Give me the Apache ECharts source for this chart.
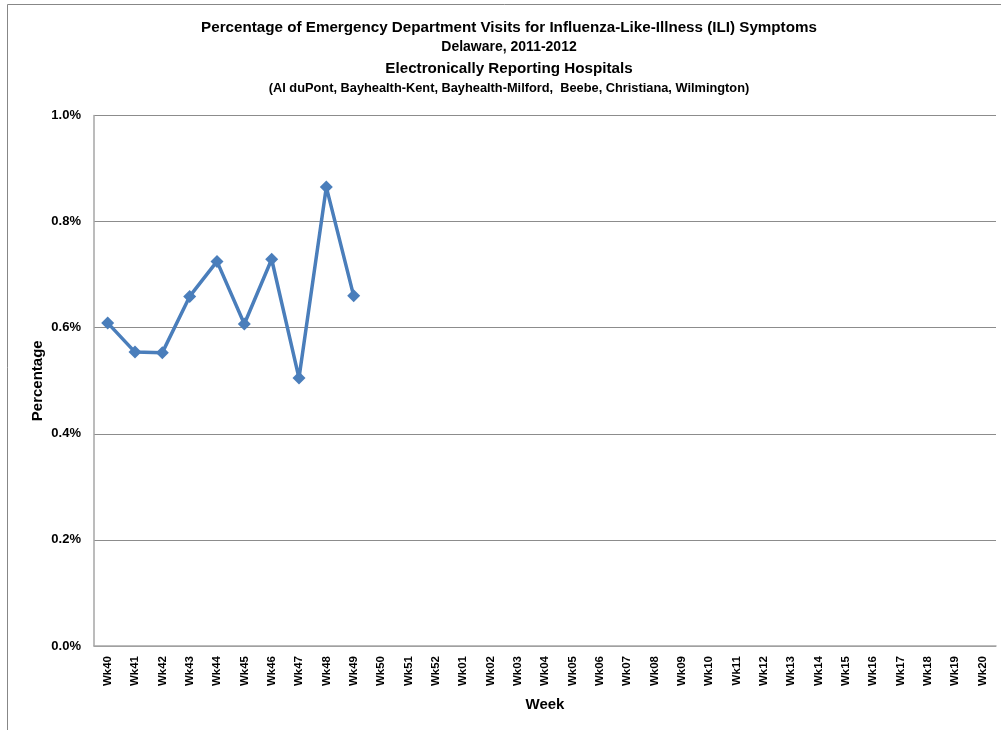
<!DOCTYPE html>
<html>
<head>
<meta charset="utf-8">
<script src="https://cdn.jsdelivr.net/npm/echarts@6/dist/echarts.min.js"></script>
<style>
html,body{margin:0;padding:0;background:#fff;}
#chart{width:1001px;height:730px;}
</style>
</head>
<body>
<div id="chart"></div>
<script>
const weeks = ['Wk40','Wk41','Wk42','Wk43','Wk44','Wk45','Wk46','Wk47','Wk48','Wk49','Wk50','Wk51','Wk52',
  'Wk01','Wk02','Wk03','Wk04','Wk05','Wk06','Wk07','Wk08','Wk09','Wk10','Wk11','Wk12','Wk13','Wk14','Wk15',
  'Wk16','Wk17','Wk18','Wk19','Wk20'];
const iliPercent = [0.609, 0.554, 0.553, 0.659, 0.725, 0.607, 0.729, 0.505, 0.865, 0.660];
const titleLines = [
  'Percentage of Emergency Department Visits for Influenza-Like-Illness (ILI) Symptoms',
  'Delaware, 2011-2012',
  'Electronically Reporting Hospitals',
  '(AI duPont, Bayhealth-Kent, Bayhealth-Milford,  Beebe, Christiana, Wilmington)'
];
const yAxisName = 'Percentage';
const xAxisName = 'Week';

const font = 'Liberation Sans, Arial, sans-serif';
const chart = echarts.init(document.getElementById('chart'));
const titleTops = [20, 40, 61, 82];
const titleSizes = [15.2, 14, 15.2, 12.8];
chart.setOption({
  animation: false,
  backgroundColor: '#fff',
  title: titleLines.map((t, i) => ({
    text: t,
    left: 509,
    textAlign: 'center',
    top: titleTops[i],
    padding: 0,
    textStyle: { fontFamily: font, fontWeight: 'bold', fontSize: titleSizes[i], color: '#000' }
  })),
  graphic: [{
    type: 'rect',
    shape: { x: 7.5, y: 4.5, width: 1100, height: 900 },
    style: { fill: 'none', stroke: '#878787', lineWidth: 1 },
    silent: true
  }],
  grid: { left: 94, right: 5, top: 115.5, bottom: 84 },
  xAxis: {
    type: 'category',
    data: weeks,
    boundaryGap: true,
    name: xAxisName,
    nameLocation: 'middle',
    nameGap: 51,
    nameTextStyle: { fontFamily: font, fontWeight: 'bold', fontSize: 15, color: '#000' },
    axisLine: { lineStyle: { color: '#a6a6a6', width: 1.5 } },
    axisTick: { show: false },
    axisLabel: { rotate: 90, margin: 10, fontFamily: font, fontWeight: 'bold', fontSize: 11.5, color: '#000', interval: 0 }
  },
  yAxis: {
    type: 'value',
    min: 0,
    max: 1.0,
    interval: 0.2,
    name: yAxisName,
    nameLocation: 'middle',
    nameGap: 49,
    nameRotate: 90,
    nameMoveOverlap: false,
    nameTextStyle: { fontFamily: font, fontWeight: 'bold', fontSize: 15, color: '#000' },
    axisLine: { show: true, lineStyle: { color: '#a6a6a6', width: 1.5 } },
    axisTick: { show: false },
    axisLabel: { margin: 13, fontFamily: font, fontWeight: 'bold', fontSize: 13, color: '#000',
      formatter: v => v.toFixed(1) + '%' },
    splitLine: { lineStyle: { color: '#8c8c8c', width: 1 } }
  },
  series: [{
    type: 'line',
    data: iliPercent,
    symbol: 'diamond',
    symbolSize: 13,
    lineStyle: { color: '#4a7ebb', width: 3.5 },
    itemStyle: { color: '#4a7ebb' }
  }]
});
</script>
</body>
</html>
